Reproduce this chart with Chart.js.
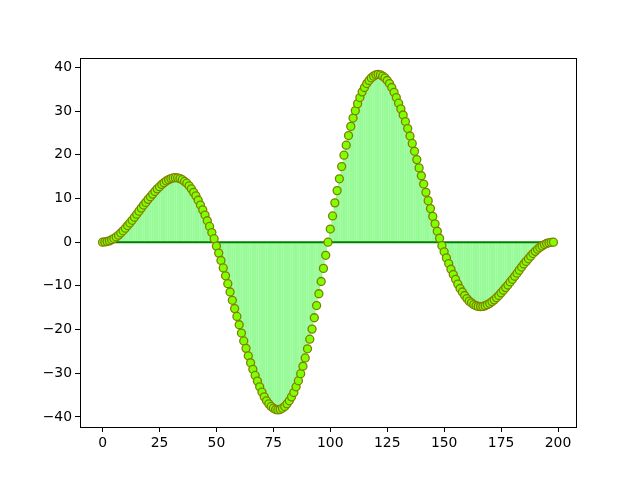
<!DOCTYPE html>
<html>
<head>
<meta charset="utf-8">
<script src="https://cdn.jsdelivr.net/npm/chart.js@4/dist/chart.umd.min.js"></script>
<style>
  html, body { margin: 0; padding: 0; background: #fff; }
  #wrap { width: 640px; height: 480px; }
</style>
</head>
<body>
<div id="wrap"><canvas id="stemChart" width="640" height="480"></canvas></div>
<script>
// values, index 0..198
const yValues = [
  0, 0.05, 0.15, 0.3, 0.55, 0.85, 1.2, 1.6, 2.1, 2.6,
  3.2, 3.8, 4.4, 5.0, 5.7, 6.4, 7.1, 7.8, 8.5, 9.1,
  9.8, 10.4, 11.0, 11.6, 12.2, 12.7, 13.2, 13.6, 14.0, 14.3,
  14.55, 14.7, 14.75, 14.7, 14.55, 14.3, 13.9, 13.5, 12.9, 12.2,
  11.4, 10.6, 9.6, 8.5, 7.4, 6.2, 4.9, 3.6, 2.2, 0.8,
  -0.9, -2.5, -4.2, -5.9, -7.7, -9.5, -11.4, -13.3, -15.2, -17.0,
  -18.9, -20.8, -22.6, -24.3, -26.0, -27.6, -29.1, -30.5, -31.8, -33.1,
  -34.3, -35.4, -36.3, -37.0, -37.6, -38.0, -38.3, -38.4, -38.3, -38.0,
  -37.6, -37.0, -36.3, -35.4, -34.4, -33.1, -31.7, -30.1, -28.4, -26.5,
  -24.4, -22.2, -19.9, -17.3, -14.5, -11.8, -9.0, -6.0, -3.0, 0,
  3.0, 6.0, 9.0, 11.8, 14.5, 17.3, 19.9, 22.2, 24.4, 26.5,
  28.4, 30.1, 31.7, 33.1, 34.4, 35.4, 36.3, 37.0, 37.6, 38.0,
  38.3, 38.4, 38.3, 38.0, 37.6, 37.0, 36.3, 35.4, 34.3, 33.1,
  31.8, 30.5, 29.1, 27.6, 26.0, 24.3, 22.6, 20.8, 18.9, 17.0,
  15.2, 13.3, 11.4, 9.5, 7.7, 5.9, 4.2, 2.5, 0.9, -0.8,
  -2.2, -3.6, -4.9, -6.2, -7.4, -8.5, -9.6, -10.6, -11.4, -12.2,
  -12.9, -13.5, -13.9, -14.3, -14.55, -14.7, -14.75, -14.7, -14.55, -14.3,
  -14.0, -13.6, -13.2, -12.7, -12.2, -11.6, -11.0, -10.4, -9.8, -9.1,
  -8.5, -7.8, -7.1, -6.4, -5.7, -5.0, -4.4, -3.8, -3.2, -2.6,
  -2.1, -1.6, -1.2, -0.85, -0.55, -0.3, -0.15, -0.05, 0
];
const xValues = yValues.map((_, i) => i);
const xTicks = [0, 25, 50, 75, 100, 125, 150, 175, 200];
const yTicks = [-40, -30, -20, -10, 0, 10, 20, 30, 40];
const baseLevel = 0;

const points = xValues.map((x, i) => ({ x: x, y: yValues[i] }));
const baseline = [
  { x: xValues[0], y: baseLevel },
  { x: xValues[xValues.length - 1], y: baseLevel }
];

// frame round the plot area, like the matplotlib spines
const frame = {
  id: 'frame',
  afterDatasetsDraw(chart) {
    const a = chart.chartArea, c = chart.ctx;
    c.save();
    c.strokeStyle = '#000';
    c.lineWidth = 1;
    c.strokeRect(Math.round(a.left) + 0.5, Math.round(a.top) + 0.5,
                 Math.round(a.right - a.left), Math.round(a.bottom - a.top));
    c.restore();
  }
};

const tickFont = { family: 'DejaVu Sans', size: 13.9 };

new Chart(document.getElementById('stemChart'), {
  type: 'bar',
  data: {
    datasets: [
      {
        type: 'line',
        data: points,
        showLine: false,
        pointRadius: 4,
        pointBorderWidth: 1.3,
        pointBackgroundColor: '#7fff00',
        pointBorderColor: '#808000',
        order: 0
      },
      {
        type: 'line',
        data: baseline,
        borderColor: '#008000',
        borderWidth: 2,
        pointRadius: 0,
        order: 1
      },
      {
        type: 'bar',
        data: points,
        backgroundColor: '#98fb98',
        barThickness: 1.8,
        order: 2
      }
    ]
  },
  options: {
    responsive: false,
    devicePixelRatio: 1,
    animation: false,
    events: [],
    layout: { padding: { left: 0, top: 58, right: 64, bottom: 0 } },
    plugins: { legend: { display: false }, tooltip: { enabled: false } },
    scales: {
      x: {
        type: 'linear',
        offset: false,
        min: -9.9,
        max: 207.9,
        afterBuildTicks: s => { s.ticks = xTicks.map(v => ({ value: v })); },
        afterFit: s => { s.height = 53; },
        grid: { offset: false, drawOnChartArea: false, drawTicks: true, tickLength: 5, color: '#000', tickWidth: 1 },
        border: { display: false },
        ticks: { color: '#000', font: tickFont, padding: 3, maxRotation: 0 }
      },
      y: {
        type: 'linear',
        min: -42.3,
        max: 42.15,
        afterBuildTicks: s => { s.ticks = yTicks.map(v => ({ value: v })); },
        afterFit: s => { s.width = 80; },
        grid: { drawOnChartArea: false, drawTicks: true, tickLength: 5, color: '#000', tickWidth: 1 },
        border: { display: false },
        ticks: {
          color: '#000', font: tickFont, padding: 3,
          callback: v => (v < 0 ? '\u2212' + Math.abs(v) : String(v))
        }
      }
    }
  },
  plugins: [frame]
});
</script>
</body>
</html>
